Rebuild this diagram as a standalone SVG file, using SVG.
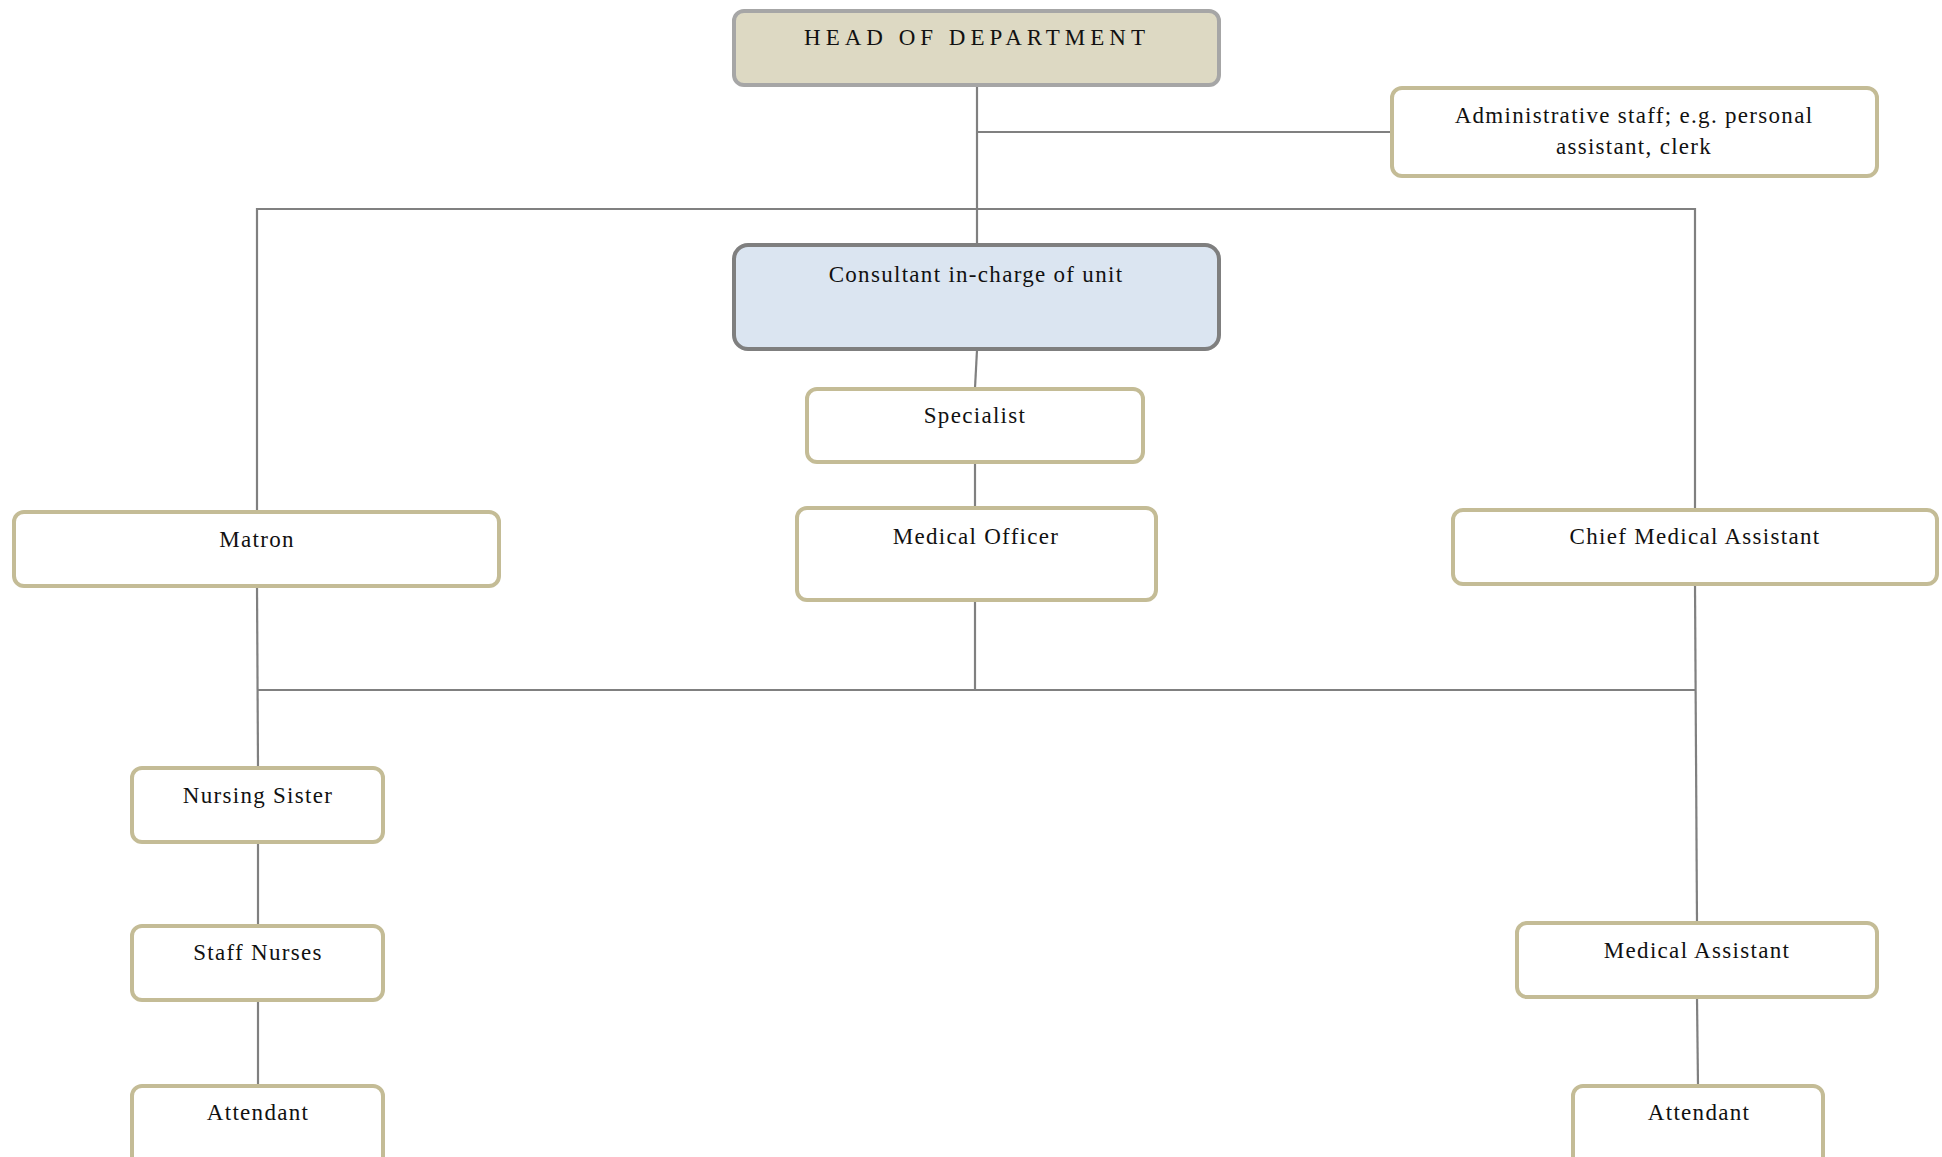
<svg xmlns="http://www.w3.org/2000/svg" width="1942" height="1157" viewBox="0 0 1942 1157">
<style>
.box{fill:#ffffff;stroke:#c4bc96;stroke-width:4}
.hod{fill:#ddd9c3;stroke:#a6a6a6;stroke-width:4}
.con{fill:#dbe5f1;stroke:#7f7f7f;stroke-width:4}
.t{font-family:"Liberation Serif","Times New Roman",serif;font-size:23px;letter-spacing:1.3px;fill:#111111;text-anchor:middle}
.h{letter-spacing:5px}
.ln{stroke:#808080;stroke-width:2.2;fill:none}
</style>
<rect width="1942" height="1157" fill="#ffffff"/>
<g id="connectors">
<path class="ln" d="M977 86 V244"/>
<path class="ln" d="M977 132 H1392"/>
<path class="ln" d="M257 512 V209 H1695 V509"/>
<path class="ln" d="M977 350 L975 388"/>
<path class="ln" d="M975 463 V507"/>
<path class="ln" d="M975 601 V690"/>
<path class="ln" d="M257 690 H1695"/>
<path class="ln" d="M257 587 L258 767"/>
<path class="ln" d="M258 843 V925"/>
<path class="ln" d="M258 1000 V1085"/>
<path class="ln" d="M1695 585 L1697 923"/>
<path class="ln" d="M1697 998 L1698 1085"/>
</g>
<g id="head"><rect class="hod" x="734" y="11" width="485" height="74" rx="10"/><text class="t h" x="977" y="45">HEAD OF DEPARTMENT</text></g>
<g id="admin"><rect class="box" x="1392" y="88" width="485" height="88" rx="10"/><text class="t" x="1634" y="123">Administrative staff; e.g. personal</text><text class="t" x="1634" y="154">assistant, clerk</text></g>
<g id="consultant"><rect class="con" x="734" y="245" width="485" height="104" rx="14"/><text class="t" x="976" y="282">Consultant in-charge of unit</text></g>
<g id="specialist"><rect class="box" x="807" y="389" width="336" height="73" rx="10"/><text class="t" x="975" y="423">Specialist</text></g>
<g id="medical-officer"><rect class="box" x="797" y="508" width="359" height="92" rx="10"/><text class="t" x="976" y="544">Medical Officer</text></g>
<g id="matron"><rect class="box" x="14" y="512" width="485" height="74" rx="10"/><text class="t" x="257" y="547">Matron</text></g>
<g id="chief-ma"><rect class="box" x="1453" y="510" width="484" height="74" rx="10"/><text class="t" x="1695" y="544">Chief Medical Assistant</text></g>
<g id="nursing-sister"><rect class="box" x="132" y="768" width="251" height="74" rx="10"/><text class="t" x="258" y="803">Nursing Sister</text></g>
<g id="staff-nurses"><rect class="box" x="132" y="926" width="251" height="74" rx="10"/><text class="t" x="258" y="960">Staff Nurses</text></g>
<g id="attendant-left"><rect class="box" x="132" y="1086" width="251" height="90" rx="10"/><text class="t" x="258" y="1120">Attendant</text></g>
<g id="medical-assistant"><rect class="box" x="1517" y="923" width="360" height="74" rx="10"/><text class="t" x="1697" y="958">Medical Assistant</text></g>
<g id="attendant-right"><rect class="box" x="1573" y="1086" width="250" height="90" rx="10"/><text class="t" x="1699" y="1120">Attendant</text></g>
</svg>
